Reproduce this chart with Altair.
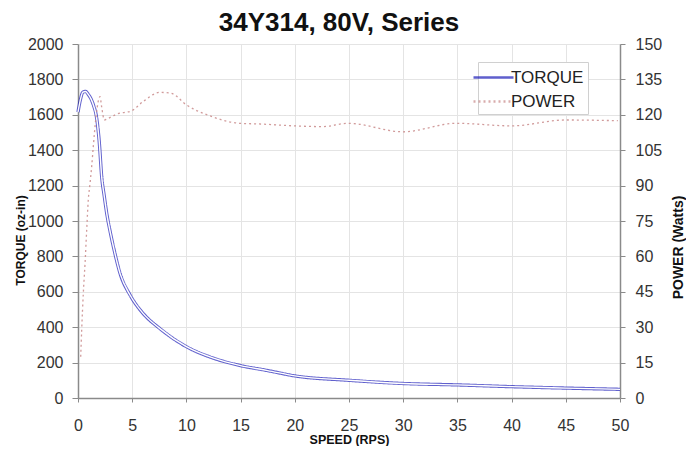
import altair as alt
import pandas as pd

series_names = ["TORQUE", "POWER"]

torque_speed = [0.0, 0.2, 0.45, 0.7, 0.95, 1.2, 1.45, 1.7, 1.95, 2.2, 2.4, 2.65, 3.0, 3.3,
                3.9, 4.8, 6.0, 7.5, 10, 12.5, 15, 17.5, 20, 25, 30, 35, 40, 45, 50]
torque_vals = [1615, 1680, 1728, 1732, 1715, 1690, 1650, 1590, 1455, 1240, 1150, 1043, 930, 845,
               700, 582, 478, 395, 290, 225, 183, 155, 125, 100, 82, 74, 64, 56, 49]

power_speed = [0.25, 0.34, 0.49, 0.65, 0.8, 0.95, 1.1, 1.26, 1.41, 1.66, 1.88, 2.03, 2.18, 2.43,
               2.8, 3.57, 4.95, 6.0, 7.56, 8.6, 10, 12.2, 14.9, 16.8, 20, 22.6, 24.9, 30,
               34.9, 40, 45, 49.8]
power_vals = [17.5, 28.8, 44.4, 57, 71, 84, 90.5, 98, 106.5, 119, 126, 127.7, 123.4, 117.8,
              118.5, 120.3, 121.7, 125.6, 129.5, 129.1, 124.2, 119.5, 116.4, 116.1, 115.3, 115, 116.4, 112.8,
              116.4, 115.3, 117.8, 117.5]

speed_ticks = list(range(0, 51, 5))
torque_ticks = list(range(0, 2001, 200))
power_ticks = list(range(0, 151, 15))

tdf = pd.DataFrame({"speed": torque_speed, "value": torque_vals, "series": "TORQUE"})
pdf = pd.DataFrame({"speed": power_speed, "value": power_vals, "series": "POWER"})

FONT = "Liberation Sans"

x_enc = alt.X(
    "speed:Q",
    scale=alt.Scale(domain=[0, 50], nice=False, zero=False),
    axis=alt.Axis(values=speed_ticks, title="SPEED (RPS)", grid=True, tickSize=4, format="d",
                  labelPadding=15, labelFlush=False, titleFontSize=12.5,
                  titleBaseline="alphabetic", titleY=45),
)

legend = alt.Legend(title=None, orient="none", legendX=400, legendY=18)

color_enc = alt.Color("series:N",
                      scale=alt.Scale(domain=series_names, range=["#1c1cb8", "#c98a8a"]),
                      legend=legend)
dash_enc = alt.StrokeDash("series:N",
                          scale=alt.Scale(domain=series_names, range=[[1, 0], [2, 3]]),
                          legend=legend)

y_torque = alt.Y(
    "value:Q",
    scale=alt.Scale(domain=[0, 2000], nice=False),
    axis=alt.Axis(values=torque_ticks, title="TORQUE (oz-in)", grid=True, tickSize=6, format="d",
                  labelPadding=9, labelFlush=False, titleFontSize=12, titleX=-58, titleY=196,
                  titleBaseline="middle"),
)

torque = alt.Chart(tdf).mark_line(strokeWidth=3.3, interpolate="monotone", opacity=0.7).encode(
    x=x_enc, y=y_torque, color=color_enc, strokeDash=dash_enc
)
core = alt.Chart(tdf).mark_line(strokeWidth=1.4, interpolate="monotone", color="white").encode(
    x=x_enc, y=y_torque
)

y_power = alt.Y(
    "value:Q",
    scale=alt.Scale(domain=[0, 150], nice=False),
    axis=alt.Axis(values=power_ticks, title="POWER (Watts)", orient="right", grid=False, format="d",
                  tickSize=5, labelPadding=10, labelFlush=False, titleFontSize=14, titleAngle=270,
                  titleX=58, titleY=203, titleBaseline="middle"),
)

power = alt.Chart(pdf).mark_line(strokeWidth=1.3, interpolate="monotone", opacity=0.85).encode(
    x=x_enc, y=y_power, color=color_enc, strokeDash=dash_enc
)

chart = (
    alt.layer(alt.layer(torque, core), power)
    .resolve_scale(y="independent")
    .properties(
        width=542,
        height=354,
        autosize=alt.AutoSizeParams(type="none"),
        padding={"left": 70, "top": 36, "right": 66, "bottom": 48},
        background="white",
        title=alt.TitleParams("34Y314, 80V, Series", font=FONT, fontSize=26, fontWeight="bold",
                              color="#111111", dx=-10, dy=34, offset=13, baseline="alphabetic",
                              frame="group"),
    )
    .configure_view(strokeWidth=0)
    .configure_axis(
        labelFont=FONT, labelFontSize=16, labelColor="#333333",
        titleFont=FONT, titleFontWeight="bold", titleColor="#111111",
        domainColor="#8a8a8a", domainWidth=1.5, tickColor="#8a8a8a", tickWidth=1,
        gridColor="#e4e4e4", gridWidth=1,
    )
    .configure_legend(
        labelFont=FONT, labelFontSize=17, labelColor="#222222",
        fillColor="white", strokeColor="#d0d0d0", padding=4,
        symbolType="M-2,0L2,0", symbolSize=400, symbolStrokeWidth=2.5,
        rowPadding=4, labelOffset=6, labelLimit=200,
    )
)

chart.save("out.html", embed_options={"renderer": "svg", "actions": False})
